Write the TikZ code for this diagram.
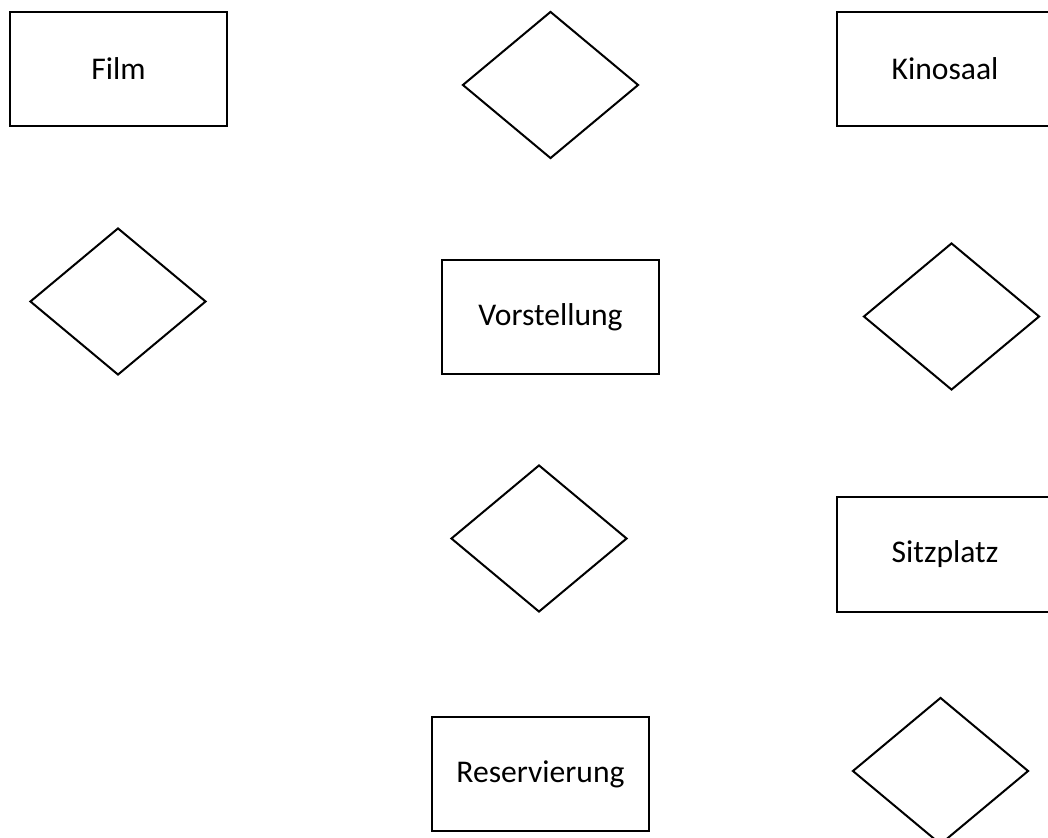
\documentclass[tikz,border=0pt]{standalone}
\usepackage{fontspec}
\setmainfont{Carlito}
\usetikzlibrary{shapes.geometric}
\begin{document}
\begin{tikzpicture}[x=0.5pt,y=-0.5pt,
  entity/.style={draw,line width=1pt,rectangle,inner sep=0pt,
    minimum width=108.5pt,minimum height=57pt,
    font=\fontsize{15.8}{19}\selectfont},
  relation/.style={draw,line width=1pt,diamond,inner sep=0pt,
    minimum width=88pt,minimum height=73.5pt}]
\useasboundingbox (0,0) rectangle (1048,838);
\clip (0,0) rectangle (1048,838);
% entities
\node[entity] (film) at (118.5,69) {Film};
\node[entity] (kinosaal) at (945,69) {Kinosaal};
\node[entity] (vorstellung) at (550.5,317.5) {Vorstellung};
\node[entity] (sitzplatz) at (945,554.5) {Sitzplatz};
\node[entity] (reservierung) at (540.5,774) {Reservierung};
% relationships
\node[relation] (r1) at (550.5,85) {};
\node[relation] (r2) at (118,301.5) {};
\node[relation] (r3) at (951.5,316.5) {};
\node[relation] (r4) at (539,538.5) {};
\node[relation] (r5) at (940.5,771) {};
\end{tikzpicture}
\end{document}
